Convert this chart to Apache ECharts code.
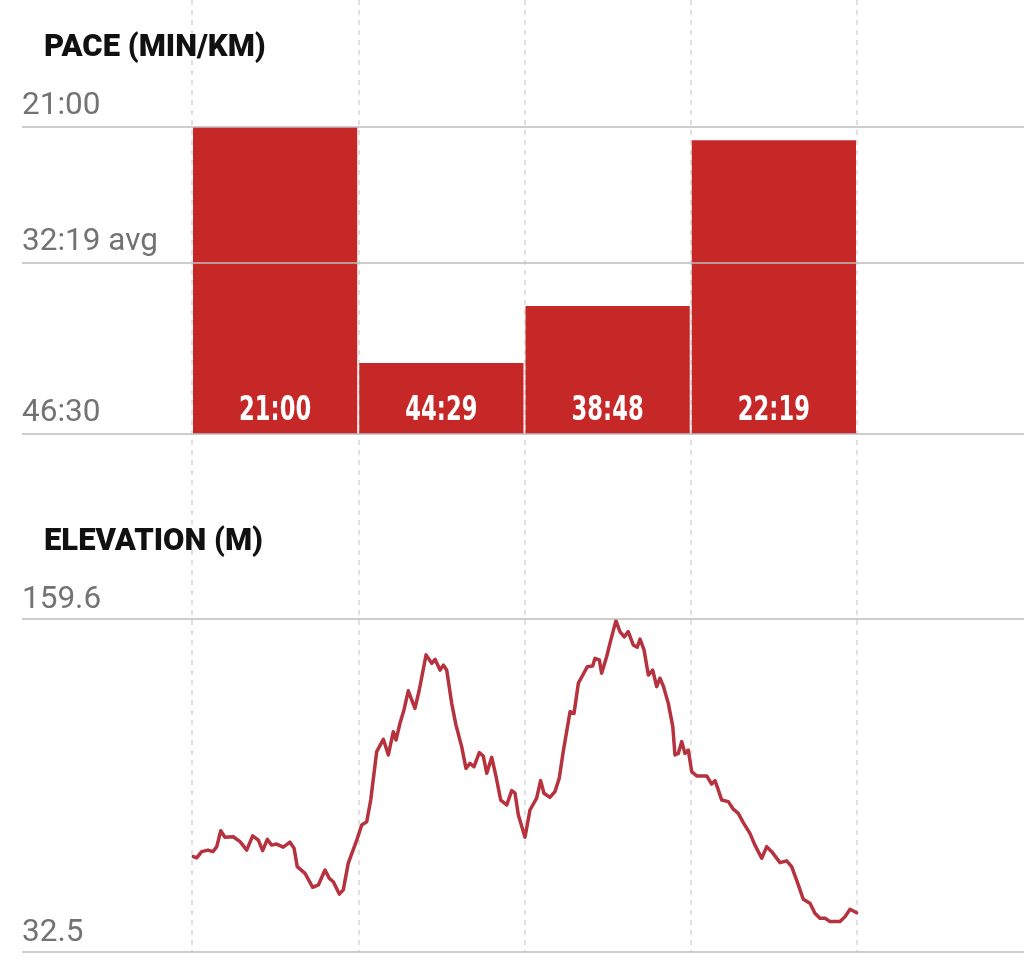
<!DOCTYPE html>
<html><head><meta charset="utf-8">
<script src="https://cdn.jsdelivr.net/npm/echarts@6/dist/echarts.min.js"></script>
<style>html,body{margin:0;padding:0;background:#fff}#c{width:1024px;height:972px}</style>
</head><body><div id="c"></div><script>
// ---- data ----
const KM_SPLITS = [1, 2, 3, 4];
const PACE_VALUES = ['21:00', '44:29', '38:48', '22:19'];
const PACE_TICK_LABELS = ['21:00', '32:19 avg', '46:30'];
const PACE_TICK_POSITIONS = ['21:00', '34:32', '51:32']; // where each tick line sits on the pace scale
const ELEV_TICK_VALUES = [159.6, 32.5];
const ELEV_TICK_LABELS = ['159.6', '32.5'];
const ELEV_KM = [0.008,0.028,0.058,0.096,0.126,0.149,0.173,0.198,0.248,0.289,0.329,0.365,0.399,0.425,0.453,0.479,0.509,0.549,0.589,0.614,0.633,0.680,0.726,0.760,0.800,0.826,0.850,0.886,0.910,0.940,0.991,1.021,1.051,1.075,1.111,1.151,1.181,1.211,1.227,1.251,1.275,1.301,1.341,1.367,1.408,1.442,1.462,1.492,1.512,1.532,1.562,1.588,1.622,1.648,1.672,1.696,1.728,1.752,1.773,1.803,1.829,1.857,1.893,1.923,1.943,1.963,2.003,2.033,2.073,2.097,2.117,2.153,2.183,2.209,2.233,2.274,2.298,2.324,2.354,2.378,2.410,2.424,2.450,2.464,2.494,2.514,2.550,2.574,2.600,2.624,2.654,2.678,2.695,2.719,2.745,2.771,2.795,2.815,2.835,2.865,2.892,2.905,2.925,2.946,2.965,2.985,3.006,3.036,3.096,3.126,3.146,3.166,3.186,3.226,3.256,3.286,3.316,3.356,3.386,3.427,3.457,3.487,3.537,3.577,3.607,3.647,3.677,3.717,3.747,3.777,3.808,3.838,3.898,3.928,3.958,3.998];
const ELEV_M = [68.9,68.4,70.8,71.4,70.8,72.7,78.8,76.3,76.5,74.6,71.4,76.8,75.2,71.2,75.5,73.3,73.7,72.5,74.4,72.1,65.1,62.5,57.2,58.1,63.8,60.6,59.3,54.6,56.2,66.4,75.2,81.0,82.2,90.5,109.0,113.7,107.7,116.6,113.4,119.8,124.9,132.2,125.5,132.5,145.9,142.7,144.2,140.1,142.0,140.1,127.4,119.1,110.9,102.6,104.5,103.2,108.6,107.3,100.7,106.8,99.4,90.5,88.6,94.1,93.1,84.8,76.3,86.7,91.2,97.9,93.1,91.5,93.7,98.8,109.0,124.2,123.6,135.1,138.6,141.4,141.7,144.6,144.0,138.9,145.2,150.3,159.0,154.8,152.8,154.8,149.7,148.8,151.9,147.8,138.2,140.1,133.8,137.0,134.0,127.4,118.5,107.7,108.3,112.8,108.3,109.6,101.3,99.7,99.7,96.6,97.9,94.3,90.5,89.9,87.0,85.4,81.9,77.8,73.3,68.3,72.7,70.8,66.6,67.3,65.1,58.1,52.6,51.1,47.3,45.4,45.4,44.1,44.1,46.0,48.8,47.5];

// ---- helpers / layout ----
const toSec = s => { const [m, x] = s.split(':').map(Number); return m * 60 + x; };
const PACE_AXIS_MIN = toSec(PACE_TICK_POSITIONS[0]);
const PACE_AXIS_MAX = toSec(PACE_TICK_POSITIONS[PACE_TICK_POSITIONS.length - 1]);
const PLOT_L = 192, PLOT_R = 857, FRAME_L = 22, FRAME_R = 1024;
const PX_PER_KM = (PLOT_R - PLOT_L) / KM_SPLITS.length;
const X_MIN = -(PLOT_L - FRAME_L) / PX_PER_KM;
const X_MAX = KM_SPLITS.length + (FRAME_R - PLOT_R) / PX_PER_KM;

const RED = '#c62828';
const LINE_RED = '#b5323e';
const GRID_GRAY = '#bdbdbd';
const LABEL_GRAY = '#737373';
const LABEL_FONT = 'Roboto, "Noto Sans", sans-serif';
const HEAD_FONT = 'Roboto, "Liberation Sans", sans-serif';
const BAR_FONT = '"DejaVu Sans Condensed", "DejaVu Sans", sans-serif';

const paceData = KM_SPLITS.map((k, i) => [i, toSec(PACE_VALUES[i]), PACE_VALUES[i]]);
const elevData = ELEV_KM.slice(0, Math.min(ELEV_KM.length, ELEV_M.length)).map((k, i) => [k, ELEV_M[i]]);

function hLines(values, labels, dist) {
  return {
    silent: true, symbol: 'none', animation: false,
    lineStyle: { color: GRID_GRAY, width: 1.5, type: 'solid', opacity: 1 },
    label: {
      show: true, position: 'insideStartTop', distance: [0, dist],
      color: LABEL_GRAY, fontFamily: LABEL_FONT, fontSize: 31.5,
      formatter: p => labels[values.indexOf(p.value)]
    },
    data: values.map(v => ({ yAxis: v }))
  };
}

const chart = echarts.init(document.getElementById('c'), null, { renderer: 'canvas' });
chart.setOption({
  animation: false,
  backgroundColor: '#ffffff',
  title: [
    { text: 'PACE (MIN/KM)', left: 39, top: 28, textStyle: { fontFamily: HEAD_FONT, fontWeight: 900, fontSize: 31, color: '#111' } },
    { text: 'ELEVATION (M)', left: 39, top: 522, textStyle: { fontFamily: HEAD_FONT, fontWeight: 900, fontSize: 31, color: '#111' } }
  ],
  grid: [
    { left: PLOT_L, width: PLOT_R - PLOT_L, top: 0, height: 952 },
    { left: FRAME_L, right: 0, top: 127, height: 307 },
    { left: FRAME_L, right: 0, top: 619, height: 333 }
  ],
  xAxis: [
    { gridIndex: 0, type: 'value', min: 0, max: KM_SPLITS.length, interval: 1,
      axisLine: { show: false }, axisTick: { show: false }, axisLabel: { show: false },
      splitLine: { show: true, lineStyle: { color: '#d6d6d6', width: 1.5, type: [5, 5] } } },
    { gridIndex: 1, type: 'value', min: X_MIN, max: X_MAX, show: false },
    { gridIndex: 2, type: 'value', min: X_MIN, max: X_MAX, show: false }
  ],
  yAxis: [
    { gridIndex: 0, type: 'value', show: false, min: 0, max: 1, splitLine: { show: false } },
    { gridIndex: 1, type: 'value', inverse: true, min: PACE_AXIS_MIN, max: PACE_AXIS_MAX, show: false, splitLine: { show: false } },
    { gridIndex: 2, type: 'value', min: ELEV_TICK_VALUES[1], max: ELEV_TICK_VALUES[0], show: false, splitLine: { show: false } }
  ],
  series: [
    {
      type: 'custom', xAxisIndex: 1, yAxisIndex: 1, z: 2,
      data: paceData,
      renderItem: (params, api) => {
        const i = api.value(0), pace = api.value(1);
        const a = api.coord([i, pace]);
        const b = api.coord([i + 1, PACE_AXIS_MAX]);
        const cx = (a[0] + b[0]) / 2;
        return {
          type: 'group',
          children: [
            { type: 'rect',
              shape: { x: a[0] + 1, y: a[1], width: b[0] - a[0] - 2, height: b[1] - a[1] },
              style: { fill: RED } },
            { type: 'text', x: cx, y: b[1] - 6, scaleX: 0.74, z2: 10,
              style: { text: PACE_VALUES[params.dataIndex], fill: '#fff', fontFamily: BAR_FONT, fontWeight: 'bold', fontSize: 34, align: 'center', verticalAlign: 'bottom' } }
          ]
        };
      },
      markLine: hLines(PACE_TICK_POSITIONS.map(toSec), PACE_TICK_LABELS, 5)
    },
    {
      type: 'line', xAxisIndex: 2, yAxisIndex: 2, z: 3,
      data: elevData, showSymbol: false, symbol: 'none', clip: false,
      lineStyle: { color: LINE_RED, width: 3.5, join: 'round', cap: 'round' },
      markLine: hLines(ELEV_TICK_VALUES, ELEV_TICK_LABELS, 3)
    }
  ]
});
</script></body></html>
